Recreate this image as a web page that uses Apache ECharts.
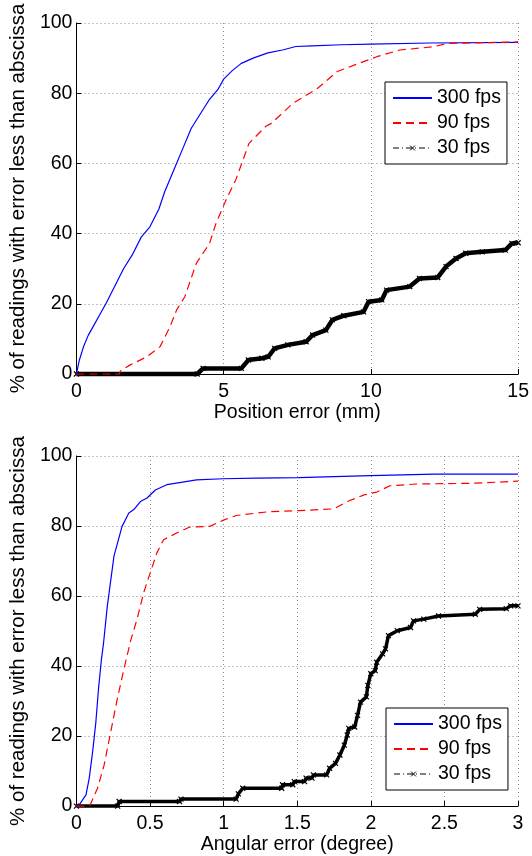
<!DOCTYPE html>
<html>
<head>
<meta charset="utf-8">
<script src="https://cdn.jsdelivr.net/npm/echarts@6/dist/echarts.min.js"></script>
<style>
html,body{margin:0;padding:0;background:#fff;}
#c{width:532px;height:856px;}
</style>
</head>
<body>
<div id="c"></div>
<script>
// ---------- Data ----------
var seriesNames = ['300 fps', '90 fps', '30 fps'];

// Top: position error (mm)
var posX300 = [0,0.1,0.25,0.4,0.6,0.8,1.0,1.3,1.6,1.9,2.2,2.5,2.8,3.0,3.3,3.6,3.9,4.2,4.5,4.8,5.0,5.3,5.6,6.0,6.5,7.0,7.45,8,9,10,12,15];
var posY300 = [0,4,8,11,14,17,20,25,30,34,39,42,47,52,58,64,70,74,78,81,84,86.5,88.5,90,91.5,92.3,93.3,93.5,93.8,94.0,94.3,94.5];

var posX90 = [0,1.45,1.5,1.83,2.39,2.84,3.18,3.4,3.68,4.07,4.52,4.74,5.08,5.41,5.86,6.42,6.62,7.35,8.19,8.86,9.75,10.2,10.98,12.1,12.6,15];
var posY90 = [0,0,0.9,2.6,4.9,7.8,13.5,18.2,22,31.5,37.2,42.9,49.6,55.3,65.7,70.5,71.4,77.1,81.4,86.2,89,90.4,92.3,93.2,94.2,94.6];

var posX30 = [0,4.1,4.3,5.6,5.84,6.3,6.51,6.73,7.18,7.8,8.02,8.47,8.69,9.08,9.75,9.92,10.37,10.53,11.32,11.65,12.27,12.55,12.89,13.22,13.78,14.56,14.79,15];
var posY30 = [0,0,1.6,1.6,4,4.5,4.9,7.3,8.3,9.2,11.1,12.5,15.4,16.6,17.7,20.6,21.1,23.9,24.9,27.2,27.5,30.6,32.9,34.4,34.8,35.3,37.2,37.4];

// Bottom: angular error (degree)
var angX300 = [0,0.02,0.065,0.087,0.11,0.132,0.15,0.17,0.184,0.21,0.255,0.31,0.356,0.39,0.435,0.48,0.536,0.614,0.70,0.816,0.995,1.22,1.51,1.75,2.0,2.43,3];
var angY300 = [0,0.4,3.2,8,15.5,24,33.5,42,46.5,57.2,71.4,79.9,83.7,84.7,87,88,90.3,91.8,92.4,93.2,93.5,93.7,93.8,94.1,94.4,94.8,94.8];

var angX90 = [0,0.08,0.094,0.143,0.188,0.233,0.278,0.323,0.368,0.412,0.457,0.502,0.547,0.592,0.681,0.77,0.906,0.995,1.085,1.31,1.51,1.75,1.84,1.955,2.04,2.13,2.31,2.69,2.95,3];
var angY90 = [0,0,0.4,5.1,11.7,21.2,30.7,39.2,47.2,53.4,61,66.7,72.4,76.1,78,79.7,79.9,81.6,83,84.1,84.4,84.9,87,88.9,89.7,91.5,92,92.2,92.7,92.8];

var angX30 = [0,0.28,0.29,0.70,0.71,1.085,1.1,1.13,1.395,1.40,1.47,1.48,1.55,1.56,1.6,1.61,1.70,1.72,1.76,1.79,1.82,1.84,1.85,1.89,1.91,1.93,1.97,1.98,2.0,2.03,2.04,2.08,2.10,2.12,2.18,2.27,2.29,2.36,2.46,2.71,2.74,2.92,2.95,3];
var angY30 = [0,0,1.3,1.3,2,2,3.5,5.1,5.1,6.1,6.1,7.0,7.0,8.0,8.0,8.9,8.9,10.8,12.2,14.6,17.4,20.3,22.2,22.6,25.9,29.7,31.2,34.5,37.8,38.7,41.1,43.5,44.9,48.7,50.1,51,52.9,53.4,54.3,54.8,56.2,56.4,57.2,57.2];

// Axis ticks
var posTicks = {min:0, max:15, interval:5};
var angTicks = {min:0, max:3, interval:0.5};
var pctTicks = {min:0, max:100, interval:20};

var xTitleTop = 'Position error (mm)';
var xTitleBottom = 'Angular error (degree)';
var yTitle = '% of readings with error less than abscissa';

// ---------- Chart ----------
function zip(xs, ys){ return xs.map(function(x,i){ return [x, ys[i]]; }); }

var FONT = "'Liberation Sans', Arial, Helvetica, sans-serif";
var xMark = 'path://M0,0L10,10M10,0L0,10';

function xAxisOf(gi, t, name){
  return {
    type:'value', gridIndex:gi, min:t.min, max:t.max, interval:t.interval,
    name:name, nameLocation:'middle', nameGap:28,
    nameTextStyle:{color:'#000', fontSize:19.5, fontFamily:FONT},
    axisLine:{show:true, onZero:false, lineStyle:{color:'#000', width:1}},
    axisTick:{show:true, inside:true, length:5, lineStyle:{color:'#000'}},
    axisLabel:{color:'#000', fontSize:19.5, fontFamily:FONT, margin:8},
    splitLine:{show:true, lineStyle:{color:'#8a8a8a', width:1, type:[1,3]}}
  };
}
function yAxisOf(gi, t, name){
  return {
    type:'value', gridIndex:gi, min:t.min, max:t.max, interval:t.interval,
    name:name, nameLocation:'middle', nameGap:45,
    nameTextStyle:{color:'#000', fontSize:20.5, fontFamily:FONT},
    axisLine:{show:true, onZero:false, lineStyle:{color:'#000', width:1}},
    axisTick:{show:true, inside:true, length:5, lineStyle:{color:'#000'}},
    axisLabel:{color:'#000', fontSize:19.5, fontFamily:FONT, margin:4},
    splitLine:{show:true, lineStyle:{color:'#8a8a8a', width:1, type:[1,3]}}
  };
}
function legendOf(left, top){
  return {
    orient:'vertical', left:left, top:top,
    padding:[6,6,6,7], itemGap:5, itemWidth:39, itemHeight:6,
    backgroundColor:'#fff', borderColor:'#000', borderWidth:1, borderRadius:0,
    textStyle:{color:'#000', fontSize:19.5, fontFamily:FONT},
    selectedMode:false,
    data:[
      {name:seriesNames[0], itemStyle:{opacity:0}},
      {name:seriesNames[1], itemStyle:{opacity:0}},
      {name:seriesNames[2], lineStyle:{width:1, type:[6,3,1,3]}, itemStyle:{borderWidth:1}}
    ]
  };
}
function blue(gi, d){
  return {name:seriesNames[0], type:'line', xAxisIndex:gi, yAxisIndex:gi, data:d,
    symbol:'none', clip:false, lineStyle:{color:'#0000ff', width:1.2}, itemStyle:{color:'#0000ff'}, z:3};
}
function red(gi, d){
  return {name:seriesNames[1], type:'line', xAxisIndex:gi, yAxisIndex:gi, data:d,
    symbol:'none', clip:false, lineStyle:{color:'#ff0000', width:1.2, type:[8,5]}, itemStyle:{color:'#ff0000'}, z:3};
}
function black(gi, d, w){
  return {name:seriesNames[2], type:'line', xAxisIndex:gi, yAxisIndex:gi, data:d,
    symbol:xMark, symbolSize:5, showSymbol:true, showAllSymbol:true, clip:false,
    lineStyle:{color:'#000', width:w}, itemStyle:{color:'#000', borderColor:'#000', borderWidth:1.2}, z:2};
}

var chart = echarts.init(document.getElementById('c'), null, {renderer:'canvas'});
chart.setOption({
  animation:false,
  backgroundColor:'#fff',
  textStyle:{fontFamily:FONT},
  grid:[
    {left:72, top:23, width:447, height:351},
    {left:72, top:456, width:446, height:352}
  ],
  xAxis:[xAxisOf(0, posTicks, xTitleTop), xAxisOf(1, angTicks, xTitleBottom)],
  yAxis:[yAxisOf(0, pctTicks, yTitle), yAxisOf(1, pctTicks, yTitle)],
  legend:[legendOf(385, 82), legendOf(386, 708)],
  series:[
    blue(0, zip(posX300, posY300)),
    red(0, zip(posX90, posY90)),
    black(0, zip(posX30, posY30), 4.5),
    blue(1, zip(angX300, angY300)),
    red(1, zip(angX90, angY90)),
    black(1, zip(angX30, angY30), 3.5)
  ]
});
</script>
</body>
</html>
